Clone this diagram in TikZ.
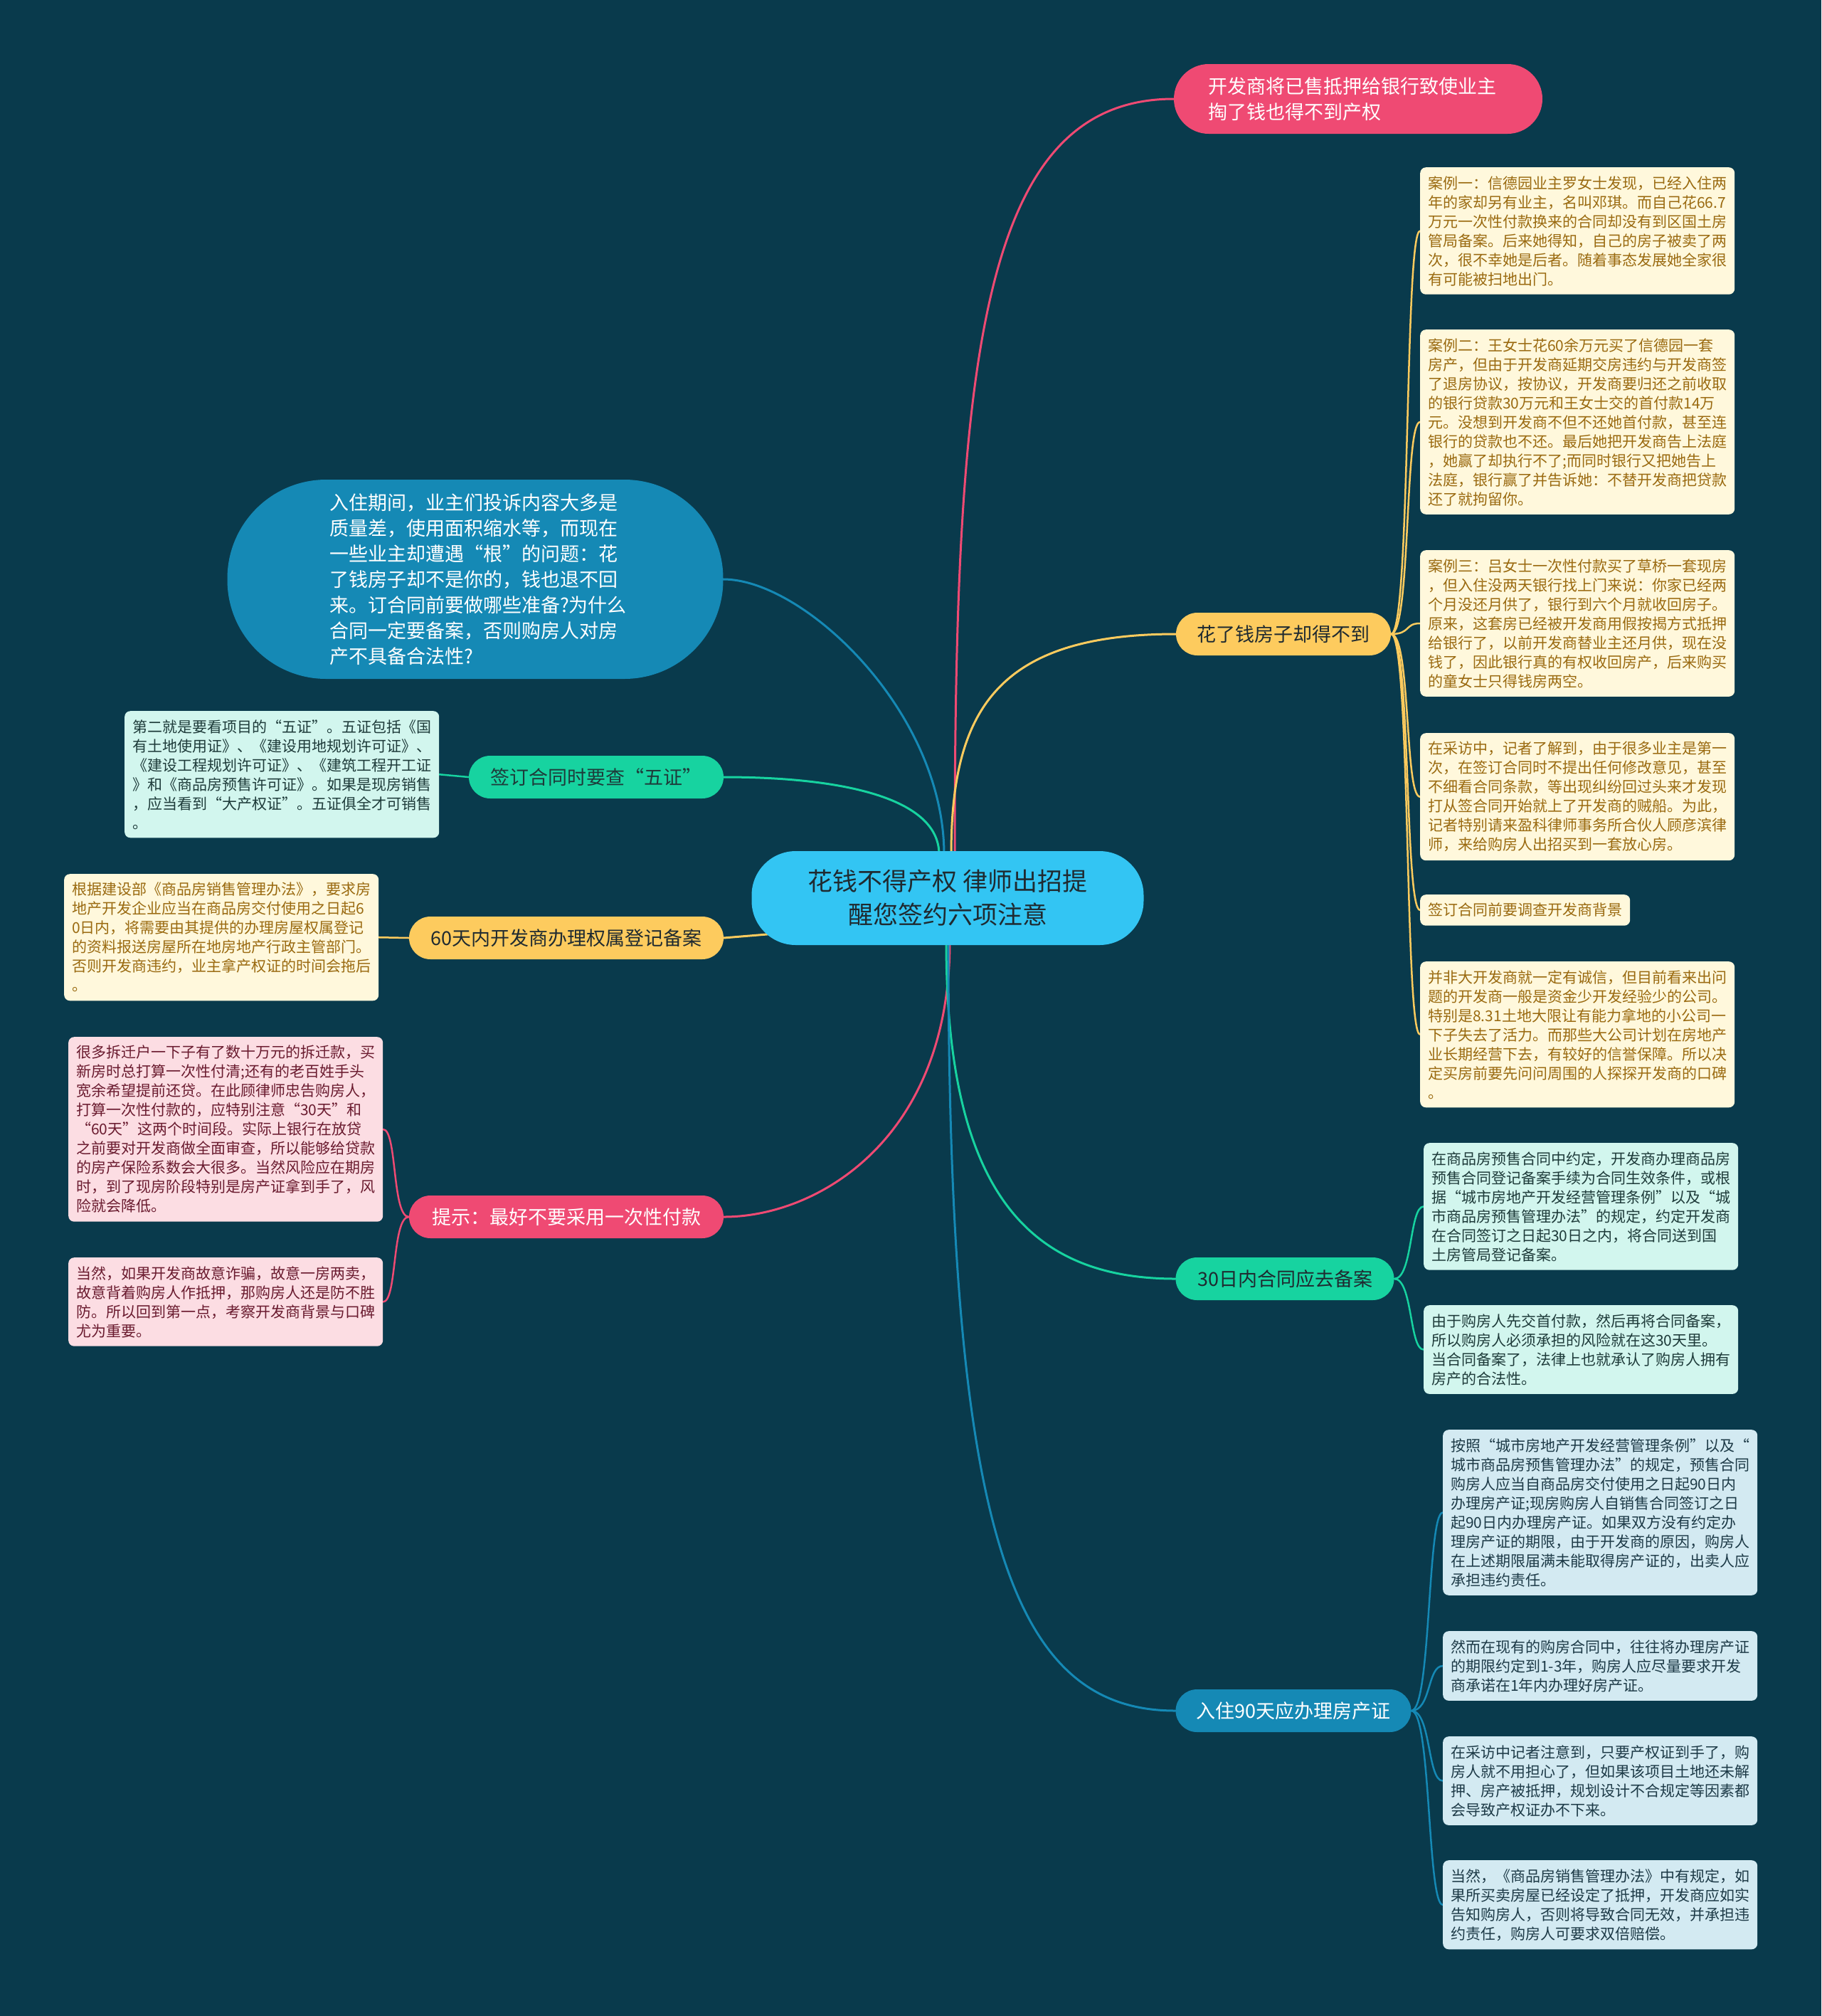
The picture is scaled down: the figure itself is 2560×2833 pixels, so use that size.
\documentclass[tikz,border=0pt]{standalone}
\usepackage{fontspec}
\setmainfont{Noto Sans CJK SC}
\usetikzlibrary{calc}
\definecolor{bgc}{HTML}{093A4C}
\definecolor{redc}{HTML}{EF4A73}
\definecolor{yelc}{HTML}{FDCB5E}
\definecolor{grnc}{HTML}{17D3A0}
\definecolor{bluc}{HTML}{1589B5}
\definecolor{rootc}{HTML}{33C5F3}
\definecolor{creamf}{HTML}{FFF8DC}
\definecolor{creamt}{HTML}{9A6A10}
\definecolor{mintf}{HTML}{D2F6EE}
\definecolor{mintt}{HTML}{1E3B3A}
\definecolor{bgf}{HTML}{D3EAF2}
\definecolor{bgt}{HTML}{1D3A47}
\definecolor{pinkf}{HTML}{FCDDE3}
\definecolor{pinkt}{HTML}{6A1B2F}
\definecolor{darkt}{HTML}{1F2A30}
\pgfdeclarelayer{bglayer}
\pgfsetlayers{bglayer,main}
\tikzset{
  card/.style={rounded corners=8pt, inner xsep=11pt, inner ysep=12pt, align=left,
    anchor=north west, font=\fontsize{21}{27}\selectfont},
  wcard/.style={card, text width=420pt},
  ycard/.style={wcard, fill=creamf, text=creamt},
  mcard/.style={wcard, fill=mintf, text=mintt},
  bcard/.style={wcard, fill=bgf, text=bgt},
  pcard/.style={wcard, fill=pinkf, text=pinkt},
  branch/.style={rounded corners=30pt, minimum height=60pt, inner xsep=25pt, inner ysep=0pt,
    font=\fontsize{27}{32}\selectfont},
  mainline/.style={line width=3pt, line cap=round},
  subline/.style={line width=2.5pt, line cap=round},
}
\begin{document}
\begin{tikzpicture}[x=1pt,y=-1pt]
\useasboundingbox (0,0) rectangle (2560,2833);
\begin{pgfonlayer}{bglayer}
\fill[bgc] (0,0) rectangle (2560,2833);
\end{pgfonlayer}

% root
\node[fill=rootc, text=darkt, minimum width=551pt, minimum height=132pt, rounded corners=62pt,
  align=center, inner sep=0pt, font=\fontsize{35}{47}\selectfont] (root) at (1332,1262)
  {花钱不得产权 律师出招提\\醒您签约六项注意};
\coordinate (rootin) at (1090,1312);

% top red
\node[fill=redc, text=white, minimum width=518pt, minimum height=98pt, rounded corners=49pt,
  text width=422pt, align=left, inner sep=0pt, font=\fontsize{27}{36}\selectfont] (top) at (1909,139)
  {开发商将已售抵押给银行致使业主\\掏了钱也得不到产权};

% big left node
\node[fill=bluc, text=white, minimum width=697pt, minimum height=280pt, rounded corners=139pt,
  text width=410pt, align=left, inner sep=0pt, font=\fontsize{27}{36}\selectfont] (big) at (668,814)
  {入住期间，业主们投诉内容大多是\\质量差，使用面积缩水等，而现在\\一些业主却遭遇“根”的问题：花\\了钱房子却不是你的，钱也退不回\\来。订合同前要做哪些准备?为什么\\合同一定要备案，否则购房人对房\\产不具备合法性?};

% branches
\node[branch, fill=yelc, text=darkt, minimum width=302pt] (b1) at (1804,891) {花了钱房子却得不到};
\node[branch, fill=grnc, text=darkt, minimum width=307pt] (b30) at (1806,1797) {30日内合同应去备案};
\node[branch, fill=bluc, text=white, minimum width=331pt] (b90) at (1818,2404) {入住90天应办理房产证};
\node[branch, fill=grnc, text=mintt, minimum width=358pt] (b5z) at (838,1092) {签订合同时要查“五证”};
\node[branch, fill=yelc, text=darkt, minimum width=442pt] (b60) at (796,1318) {60天内开发商办理权属登记备案};
\node[branch, fill=redc, text=white, minimum width=442pt] (btip) at (796,1710) {提示：最好不要采用一次性付款};

% right yellow cards
\node[ycard] (y1) at (1996,235) {案例一：信德园业主罗女士发现，已经入住两\\年的家却另有业主，名叫邓琪。而自己花66.7\\万元一次性付款换来的合同却没有到区国土房\\管局备案。后来她得知，自己的房子被卖了两\\次，很不幸她是后者。随着事态发展她全家很\\有可能被扫地出门。};
\node[ycard] (y2) at (1996,463) {案例二：王女士花60余万元买了信德园一套\\房产，但由于开发商延期交房违约与开发商签\\了退房协议，按协议，开发商要归还之前收取\\的银行贷款30万元和王女士交的首付款14万\\元。没想到开发商不但不还她首付款，甚至连\\银行的贷款也不还。最后她把开发商告上法庭\\，她赢了却执行不了;而同时银行又把她告上\\法庭，银行赢了并告诉她：不替开发商把贷款\\还了就拘留你。};
\node[ycard] (y3) at (1996,773) {案例三：吕女士一次性付款买了草桥一套现房\\，但入住没两天银行找上门来说：你家已经两\\个月没还月供了，银行到六个月就收回房子。\\原来，这套房已经被开发商用假按揭方式抵押\\给银行了，以前开发商替业主还月供，现在没\\钱了，因此银行真的有权收回房产，后来购买\\的童女士只得钱房两空。};
\node[ycard] (y4) at (1996,1030) {在采访中，记者了解到，由于很多业主是第一\\次，在签订合同时不提出任何修改意见，甚至\\不细看合同条款，等出现纠纷回过头来才发现\\打从签合同开始就上了开发商的贼船。为此，\\记者特别请来盈科律师事务所合伙人顾彦滨律\\师，来给购房人出招买到一套放心房。};
\node[card, fill=creamf, text=creamt] (y5) at (1996,1257) {签订合同前要调查开发商背景};
\node[ycard] (y6) at (1996,1351) {并非大开发商就一定有诚信，但目前看来出问\\题的开发商一般是资金少开发经验少的公司。\\特别是8.31土地大限让有能力拿地的小公司一\\下子失去了活力。而那些大公司计划在房地产\\业长期经营下去，有较好的信誉保障。所以决\\定买房前要先问问周围的人探探开发商的口碑\\。};

% green cards
\node[mcard] (g1) at (2001,1606) {在商品房预售合同中约定，开发商办理商品房\\预售合同登记备案手续为合同生效条件，或根\\据“城市房地产开发经营管理条例”以及“城\\市商品房预售管理办法”的规定，约定开发商\\在合同签订之日起30日之内，将合同送到国\\土房管局登记备案。};
\node[mcard] (g2) at (2001,1834) {由于购房人先交首付款，然后再将合同备案，\\所以购房人必须承担的风险就在这30天里。\\当合同备案了，法律上也就承认了购房人拥有\\房产的合法性。};

% blue cards
\node[bcard] (c1) at (2028,2009) {按照“城市房地产开发经营管理条例”以及“\\城市商品房预售管理办法”的规定，预售合同\\购房人应当自商品房交付使用之日起90日内\\办理房产证;现房购房人自销售合同签订之日\\起90日内办理房产证。如果双方没有约定办\\理房产证的期限，由于开发商的原因，购房人\\在上述期限届满未能取得房产证的，出卖人应\\承担违约责任。};
\node[bcard] (c2) at (2028,2292) {然而在现有的购房合同中，往往将办理房产证\\的期限约定到1-3年，购房人应尽量要求开发\\商承诺在1年内办理好房产证。};
\node[bcard] (c3) at (2028,2440) {在采访中记者注意到，只要产权证到手了，购\\房人就不用担心了，但如果该项目土地还未解\\押、房产被抵押，规划设计不合规定等因素都\\会导致产权证办不下来。};
\node[bcard] (c4) at (2028,2614) {当然，《商品房销售管理办法》中有规定，如\\果所买卖房屋已经设定了抵押，开发商应如实\\告知购房人，否则将导致合同无效，并承担违\\约责任，购房人可要求双倍赔偿。};

% left cards
\node[mcard] (l5z) at (175,999) {第二就是要看项目的“五证”。五证包括《国\\有土地使用证》、《建设用地规划许可证》、\\《建设工程规划许可证》、《建筑工程开工证\\》和《商品房预售许可证》。如果是现房销售\\，应当看到“大产权证”。五证俱全才可销售\\。};
\node[ycard] (l60) at (90,1228) {根据建设部《商品房销售管理办法》，要求房\\地产开发企业应当在商品房交付使用之日起6\\0日内，将需要由其提供的办理房屋权属登记\\的资料报送房屋所在地房地产行政主管部门。\\否则开发商违约，业主拿产权证的时间会拖后\\。};
\node[pcard] (p1) at (96,1457) {很多拆迁户一下子有了数十万元的拆迁款，买\\新房时总打算一次性付清;还有的老百姓手头\\宽余希望提前还贷。在此顾律师忠告购房人，\\打算一次性付款的，应特别注意“30天”和\\“60天”这两个时间段。实际上银行在放贷\\之前要对开发商做全面审查，所以能够给贷款\\的房产保险系数会大很多。当然风险应在期房\\时，到了现房阶段特别是房产证拿到手了，风\\险就会降低。};
\node[pcard] (p2) at (96,1767) {当然，如果开发商故意诈骗，故意一房两卖，\\故意背着购房人作抵押，那购房人还是防不胜\\防。所以回到第一点，考察开发商背景与口碑\\尤为重要。};

% connectors
\begin{pgfonlayer}{bglayer}
\draw[mainline, redc] ($(root.north)+(10,5)$) .. controls (1342,500) and (1380,139) .. (top.west);
\draw[mainline, yelc] ($(root.north)+(5,5)$) .. controls (1337,1000) and (1400,891) .. (b1.west);
\draw[mainline, bluc] ($(root.north)+(-5,5)$) .. controls (1327,1000) and (1130,814) .. (big.east);
\draw[mainline, grnc] ($(root.north)+(-12,5)$) .. controls (1320,1120) and (1180,1092) .. (b5z.east);
\draw[mainline, yelc] (b60.east) -- (rootin);
\draw[mainline, redc] ($(root.south)+(3,-5)$) .. controls (1335,1600) and (1150,1710) .. (btip.east);
\draw[mainline, grnc] ($(root.south)+(-2,-5)$) .. controls (1330,1680) and (1450,1797) .. (b30.west);
\draw[mainline, bluc] ($(root.south)+(1,-5)$) .. controls (1333,2150) and (1420,2404) .. (b90.west);

\foreach \c in {y1,y2,y3,y4,y5,y6}
  \draw[subline, yelc] (b1.east) .. controls +(28,0) and +(-22,0) .. (\c.west);
\foreach \c in {g1,g2}
  \draw[subline, grnc] (b30.east) .. controls +(26,0) and +(-20,0) .. (\c.west);
\foreach \c in {c1,c2,c3,c4}
  \draw[subline, bluc] (b90.east) .. controls +(28,0) and +(-22,0) .. (\c.west);
\draw[subline, grnc] (b5z.west) -- (l5z.east);
\draw[subline, yelc] (b60.west) -- (l60.east);
\foreach \c in {p1,p2}
  \draw[subline, redc] (btip.west) .. controls +(-24,0) and +(20,0) .. (\c.east);
\end{pgfonlayer}
\end{tikzpicture}
\end{document}
